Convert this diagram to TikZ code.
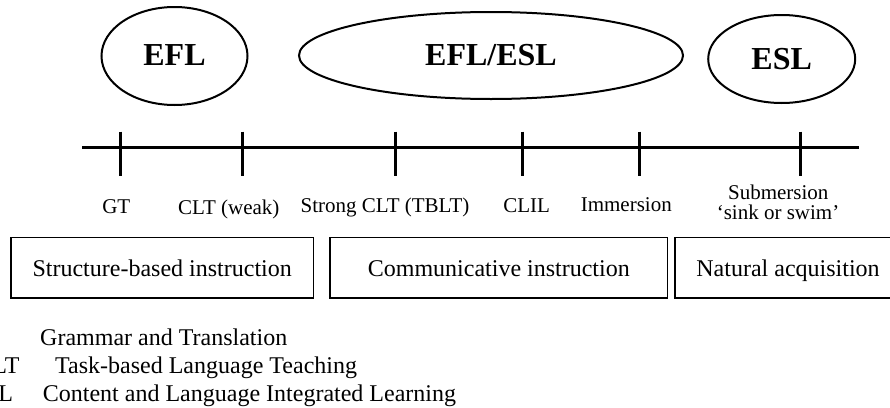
\documentclass[tikz,border=0pt]{standalone}
\usepackage{fontspec}
\setmainfont{Liberation Serif}
\usetikzlibrary{shapes}
\tikzset{
  phase/.style={draw, ellipse, line width=2pt, inner sep=0pt, font=\fontsize{32}{38}\selectfont\bfseries},
  method/.style={inner sep=0pt, anchor=base, font=\fontsize{21}{21}\selectfont},
  kind/.style={draw, line width=1.5pt, inner sep=0pt, minimum height=60.5pt, text height=18pt, text depth=0pt, font=\fontsize{24}{28}\selectfont},
  gloss/.style={inner sep=0pt, anchor=base west, font=\fontsize{24}{28}\selectfont},
  abbr/.style={inner sep=0pt, anchor=base east, font=\fontsize{24}{28}\selectfont},
  axis/.style={line width=2.5pt},
  tick/.style={line width=3pt}
}

\begin{document}
\begin{tikzpicture}[x=1pt, y=-1pt]

  \useasboundingbox (0,0) rectangle (890,407);

  %% settings
  \node[phase, minimum width=146pt, minimum height=98pt, text height=20pt, text depth=2pt] (efl) at (174.5,56) {EFL};
  \node[phase, minimum width=384pt, minimum height=87pt, text height=20pt, text depth=0pt] (mix) at (491,55.5) {EFL/ESL};
  \node[phase, minimum width=147pt, minimum height=88pt, text height=20pt, text depth=0pt] (esl) at (781.7,59) {ESL};

  %% continuum
  \coordinate (lineL) at (82,147.3);
  \coordinate (lineR) at (859.3,147.3);
  \draw[axis] (lineL) -- (lineR);
  \foreach \x/\n in {120.7/1, 242.3/2, 395/3, 522/4, 639.3/5, 800.7/6}{
    \coordinate (top\n) at (\x,131.7);
    \coordinate (bot\n) at (\x,175.7);
    \draw[tick] (top\n) -- (bot\n);
  }

  %% methods
  \node[method] (gt) at (116.3,213) {GT};
  \node[method] (weak) at (228.8,214) {CLT (weak)};
  \node[method] (strong) at (385,212.5) {Strong CLT (TBLT)};
  \node[method] (clil) at (526.7,212.5) {CLIL};
  \node[method] (imm) at (626.3,211) {Immersion};
  \node[method] (sub) at (778.3,199) {Submersion};
  \node[method] (swim) at (778,219.3) {‘sink or swim’};

  %% kinds of instruction
  \node[kind, minimum width=302.3pt] (sbi) at (162.2,267.8) {Structure-based instruction};
  \node[kind, minimum width=337.7pt] (ci) at (498.8,267.8) {Communicative instruction};
  \node[kind, minimum width=226pt] (na) at (788,267.8) {Natural acquisition};

  %% legend (cut at the left edge)
  \node[gloss] (g1) at (40,345) {Grammar and Translation};
  \node[abbr] (a2) at (19.7,373) {TBLT};
  \node[gloss] (g2) at (55,373) {Task-based Language Teaching};
  \node[abbr] (a3) at (13.2,401) {CLIL};
  \node[gloss] (g3) at (42.7,401) {Content and Language Integrated Learning};

\end{tikzpicture}
\end{document}
